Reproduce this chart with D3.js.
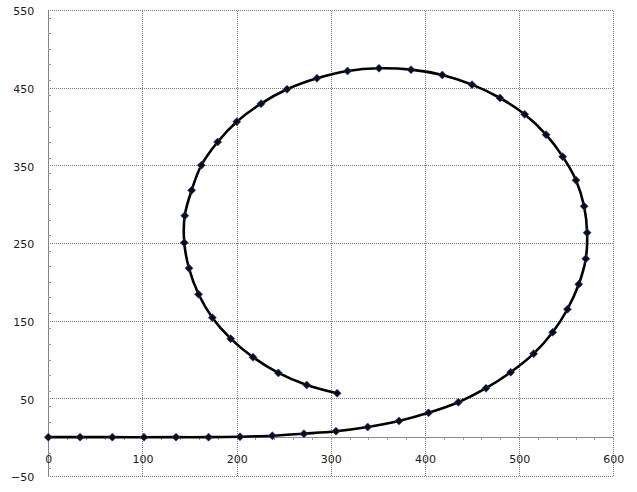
<!DOCTYPE html>
<html>
<head>
<meta charset="utf-8">
<script src="https://cdn.jsdelivr.net/npm/d3@7"></script>
<style>
  html, body { margin: 0; padding: 0; background: #fff; }
  svg { display: block; }
  .lbl text { font-family: "DejaVu Sans", sans-serif; font-size: 11px; fill: #1a1a1a; }
</style>
</head>
<body>
<svg id="chart" width="637" height="492"></svg>
<script>
// ---- data ----
const xValues = [0, 33.7, 68, 101.6, 135.6, 170.2, 203.6, 237.9, 271.5, 305.5,
  339.2, 372.4, 403.8, 435.4, 464.8, 491, 515.4, 535.6, 551.3, 563.3,
  570.8, 572.2, 569, 560.4, 546.3, 528.6, 505.8, 479.7, 450, 418.4,
  385.2, 351.2, 317.8, 285.3, 253.5, 225.9, 200.1, 179.8, 162.5, 152.2,
  144.9, 144.4, 149.4, 159.6, 174.2, 193.7, 217.4, 244.3, 274.4, 306.7];
const yValues = [0, 0, 0, -0.1, 0, 0, 0.6, 1.9, 4.5, 7.6,
  13.1, 20.9, 31.3, 44.9, 63, 83.6, 107.5, 135.1, 164.7, 196.9,
  229.8, 263.3, 297.3, 330.8, 361.2, 389.5, 415.7, 436.7, 453.9, 466.3,
  473.2, 475, 471.5, 462.1, 447.9, 429.4, 406.2, 380.1, 350.1, 317.9,
  285.2, 250.4, 217.5, 184, 153.9, 126.8, 102.9, 82.7, 67.2, 56.5];
const xTicks = [0, 100, 200, 300, 400, 500, 600];
const yTicks = [-50, 50, 150, 250, 350, 450, 550];
const xMinor = d3.range(0, 601, 20);
const yMinor = d3.range(-40, 551, 20);

// ---- layout ----
const svg = d3.select("#chart");
const pLeft = 48.3, pRight = 613.3, pTop = 10, pBottom = 476;
const x = d3.scaleLinear().domain([0, 600]).range([pLeft, pRight]);
const y = d3.scaleLinear().domain([-50, 550]).range([pBottom, pTop]);

const gridStyle = g => {
  g.select(".domain").remove();
  g.selectAll("line").attr("stroke", "#7a7a7a").attr("stroke-width", 1)
    .attr("stroke-dasharray", "1,1").attr("shape-rendering", "crispEdges");
};

// vertical grid
svg.append("g").attr("transform", `translate(0,${pBottom})`)
  .call(d3.axisBottom(x).tickValues(xTicks).tickSize(-(pBottom - pTop)).tickFormat(""))
  .call(gridStyle);
// horizontal grid
svg.append("g").attr("transform", `translate(${pLeft},0)`)
  .call(d3.axisLeft(y).tickValues(yTicks).tickSize(-(pRight - pLeft)).tickFormat(""))
  .call(gridStyle);

// x axis line with minor ticks at y = 0
const xAxisG = svg.append("g").attr("transform", `translate(0,${y(0)})`)
  .call(d3.axisBottom(x).tickValues(xMinor).tickSize(3).tickSizeOuter(0).tickFormat(""));
xAxisG.select(".domain").attr("stroke", "#8a8a8a").attr("shape-rendering", "crispEdges");
xAxisG.selectAll("line").attr("stroke", "#9a9a9a").attr("shape-rendering", "crispEdges");

// y axis line with minor ticks at x = 0
const yAxisG = svg.append("g").attr("transform", `translate(${x(0)},0)`)
  .call(d3.axisRight(y).tickValues(yMinor).tickSize(3).tickSizeOuter(0).tickFormat(""));
yAxisG.select(".domain").attr("stroke", "#8a8a8a").attr("stroke-dasharray", "1,1").attr("shape-rendering", "crispEdges");
yAxisG.selectAll("line").attr("stroke", "#9a9a9a").attr("shape-rendering", "crispEdges");

// x labels
const xl = svg.append("g").attr("class", "lbl").attr("transform", `translate(0,${y(0)})`)
  .call(d3.axisBottom(x).tickValues(xTicks).tickSize(0).tickPadding(18).tickFormat(d3.format("d")));
xl.select(".domain").remove();
xl.attr("font-family", null).attr("font-size", null);

// y labels
const yl = svg.append("g").attr("class", "lbl").attr("transform", `translate(${pLeft},0)`)
  .call(d3.axisLeft(y).tickValues(yTicks).tickSize(0).tickPadding(14).tickFormat(d3.format("d")));
yl.select(".domain").remove();
yl.attr("font-family", null).attr("font-size", null);
yl.selectAll("text").attr("dy", "0.45em");

// ---- series ----
const pts = xValues.map((v, i) => [v, yValues[i]]);
const line = d3.line().x(d => x(d[0])).y(d => y(d[1])).curve(d3.curveCatmullRom.alpha(0.5));
svg.append("path").datum(pts).attr("d", line)
  .attr("fill", "none").attr("stroke", "#000").attr("stroke-width", 2.6)
  .attr("stroke-linejoin", "round");

const sym = d3.symbol().type(d3.symbolSquare).size(32);
svg.append("g").selectAll("path").data(pts).join("path")
  .attr("d", sym)
  .attr("transform", d => `translate(${x(d[0])},${y(d[1])}) rotate(45)`)
  .attr("fill", "#0a0a22").attr("stroke", "#2a4a6a").attr("stroke-width", 0.6);
</script>
</body>
</html>
